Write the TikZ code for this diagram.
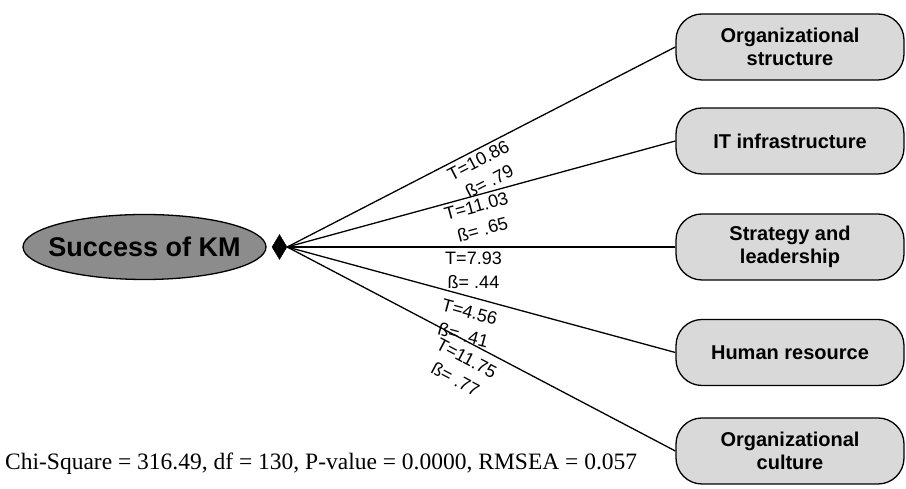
\documentclass[tikz,border=0pt]{standalone}
\usepackage{fontspec}
\setmainfont{Liberation Sans}
\newfontfamily\timesfont{Liberation Serif}
\usetikzlibrary{shapes.geometric}
\definecolor{boxgray}{RGB}{217,217,217}
\definecolor{kmgray}{RGB}{140,140,140}
\begin{document}
\begin{tikzpicture}[x=1pt,y=1pt,
  factor/.style={draw=black, line width=1.3pt, fill=boxgray, rounded corners=26pt,
    minimum width=228pt, minimum height=66pt, inner sep=0pt, align=center,
    font=\fontsize{20}{23}\selectfont\bfseries},
  kmnode/.style={ellipse, draw=black, line width=1.3pt, fill=kmgray,
    minimum width=243pt, minimum height=65pt, inner sep=0pt,
    font=\fontsize{27}{30}\selectfont\bfseries},
  tipnode/.style={diamond, fill=black, draw=black, minimum width=15pt, minimum height=25pt, inner sep=0pt},
  conn/.style={line width=1.3pt, black},
  lbl/.style={sloped, anchor=north, align=center, font=\fontsize{18}{24}\selectfont, inner xsep=0pt, inner ysep=3.5pt}
]
\useasboundingbox (0,0) rectangle (906,489);
\node[kmnode] (km) at (144.5,242) {\makebox[0pt]{Success of KM}};
\node[tipnode] (dia) at (279.5,242) {};
\node[factor] (b1) at (790,442) {Organizational\\structure};
\node[factor] (b2) at (790,348) {IT infrastructure};
\node[factor] (b3) at (790,242) {Strategy and\\leadership};
\node[factor] (b4) at (790,136.5) {Human resource};
\node[factor] (b5) at (790,38) {Organizational\\culture};
\draw[conn] (dia.east) -- node[lbl, pos=0.48] (l1) {T=10.86\\ß= .79} (b1.west);
\draw[conn] (dia.east) -- node[lbl, pos=0.48] (l2) {T=11.03\\ß= .65} (b2.west);
\draw[conn] (dia.east) -- node[lbl, pos=0.48, inner ysep=4.5pt] (l3) {T=7.93\\ß= .44} (b3.west);
\draw[conn] (dia.east) -- node[lbl, pos=0.48, inner ysep=8pt] (l4) {T=4.56\\ß= .41} (b4.west);
\draw[conn] (dia.east) -- node[lbl, pos=0.48, inner ysep=8pt] (l5) {T=11.75\\ß= .77} (b5.west);
\node[anchor=base west, inner sep=0pt, font=\timesfont\fontsize{23.5}{28}\selectfont] (stats) at (5,19) {Chi-Square = 316.49, df = 130, P-value = 0.0000, RMSEA = 0.057};
\end{tikzpicture}
\end{document}
